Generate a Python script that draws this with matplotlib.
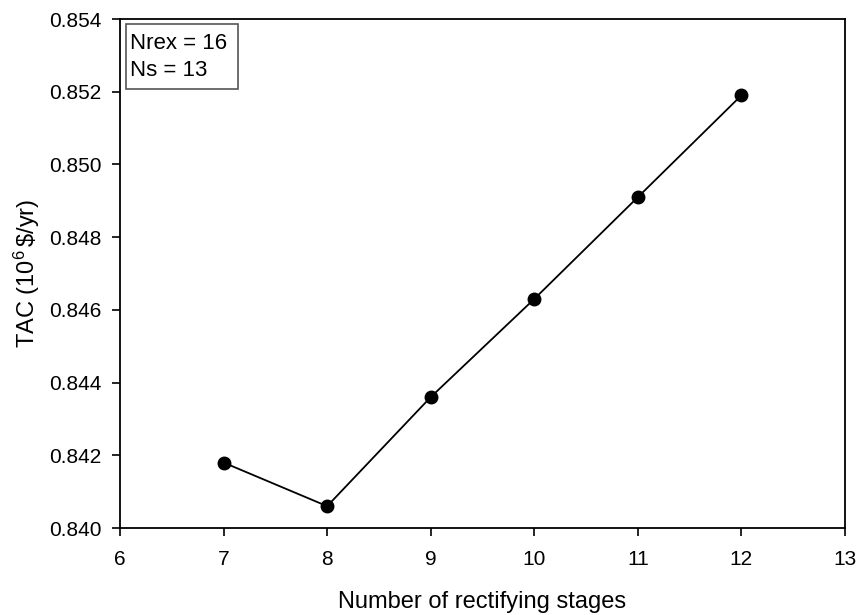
import matplotlib
matplotlib.use("Agg")
import matplotlib.pyplot as plt
from matplotlib.patches import Rectangle

plt.rcParams['font.family'] = ['Liberation Sans', 'DejaVu Sans']
plt.rcParams['mathtext.fontset'] = 'custom'
plt.rcParams['mathtext.rm'] = 'Liberation Sans'
plt.rcParams['mathtext.it'] = 'Liberation Sans'

stages = [7, 8, 9, 10, 11, 12]
tac = [0.8418, 0.8406, 0.8436, 0.8463, 0.8491, 0.8519]
xticks = [6, 7, 8, 9, 10, 11, 12, 13]
yticks = [0.840, 0.842, 0.844, 0.846, 0.848, 0.850, 0.852, 0.854]
notes = ["Nrex = 16", "Ns = 13"]

fig = plt.figure(figsize=(8.58, 6.15), dpi=100)
ax = fig.add_axes([120/858, 1 - 528/615, (845-120)/858, (528-19)/615])

ax.plot(stages, tac, color='black', lw=1.3, marker='o', ms=9, mfc='black', mec='black')

ax.set_xlim(6, 13)
ax.set_ylim(0.840, 0.854)
ax.set_xticks(xticks)
ax.set_yticks(yticks)
ax.set_yticklabels([f"{v:.3f}" for v in yticks])
ax.tick_params(axis='both', direction='out', length=5.5, width=1.2, labelsize=15,
               top=False, right=False)
ax.tick_params(axis='x', pad=10)
ax.tick_params(axis='y', pad=8)
for s in ax.spines.values():
    s.set_linewidth(1.3)

ax.set_xlabel("Number of rectifying stages", fontsize=17, labelpad=16)
ax.set_ylabel(r"$\mathrm{TAC\ (10^{6}\,\$/yr)}$", fontsize=17, labelpad=5)

# annotation box in the upper-left corner
ax.add_patch(Rectangle((0.0083, 0.8625), 0.1545, 0.1275, transform=ax.transAxes,
                       fc='white', ec='#555555', lw=1.2, zorder=3))
for line, yb in zip(notes, [0.941, 0.888]):
    ax.text(0.0138, yb, line, transform=ax.transAxes, fontsize=16,
            va='baseline', ha='left', zorder=4)

fig.savefig("out.png", dpi=100)
